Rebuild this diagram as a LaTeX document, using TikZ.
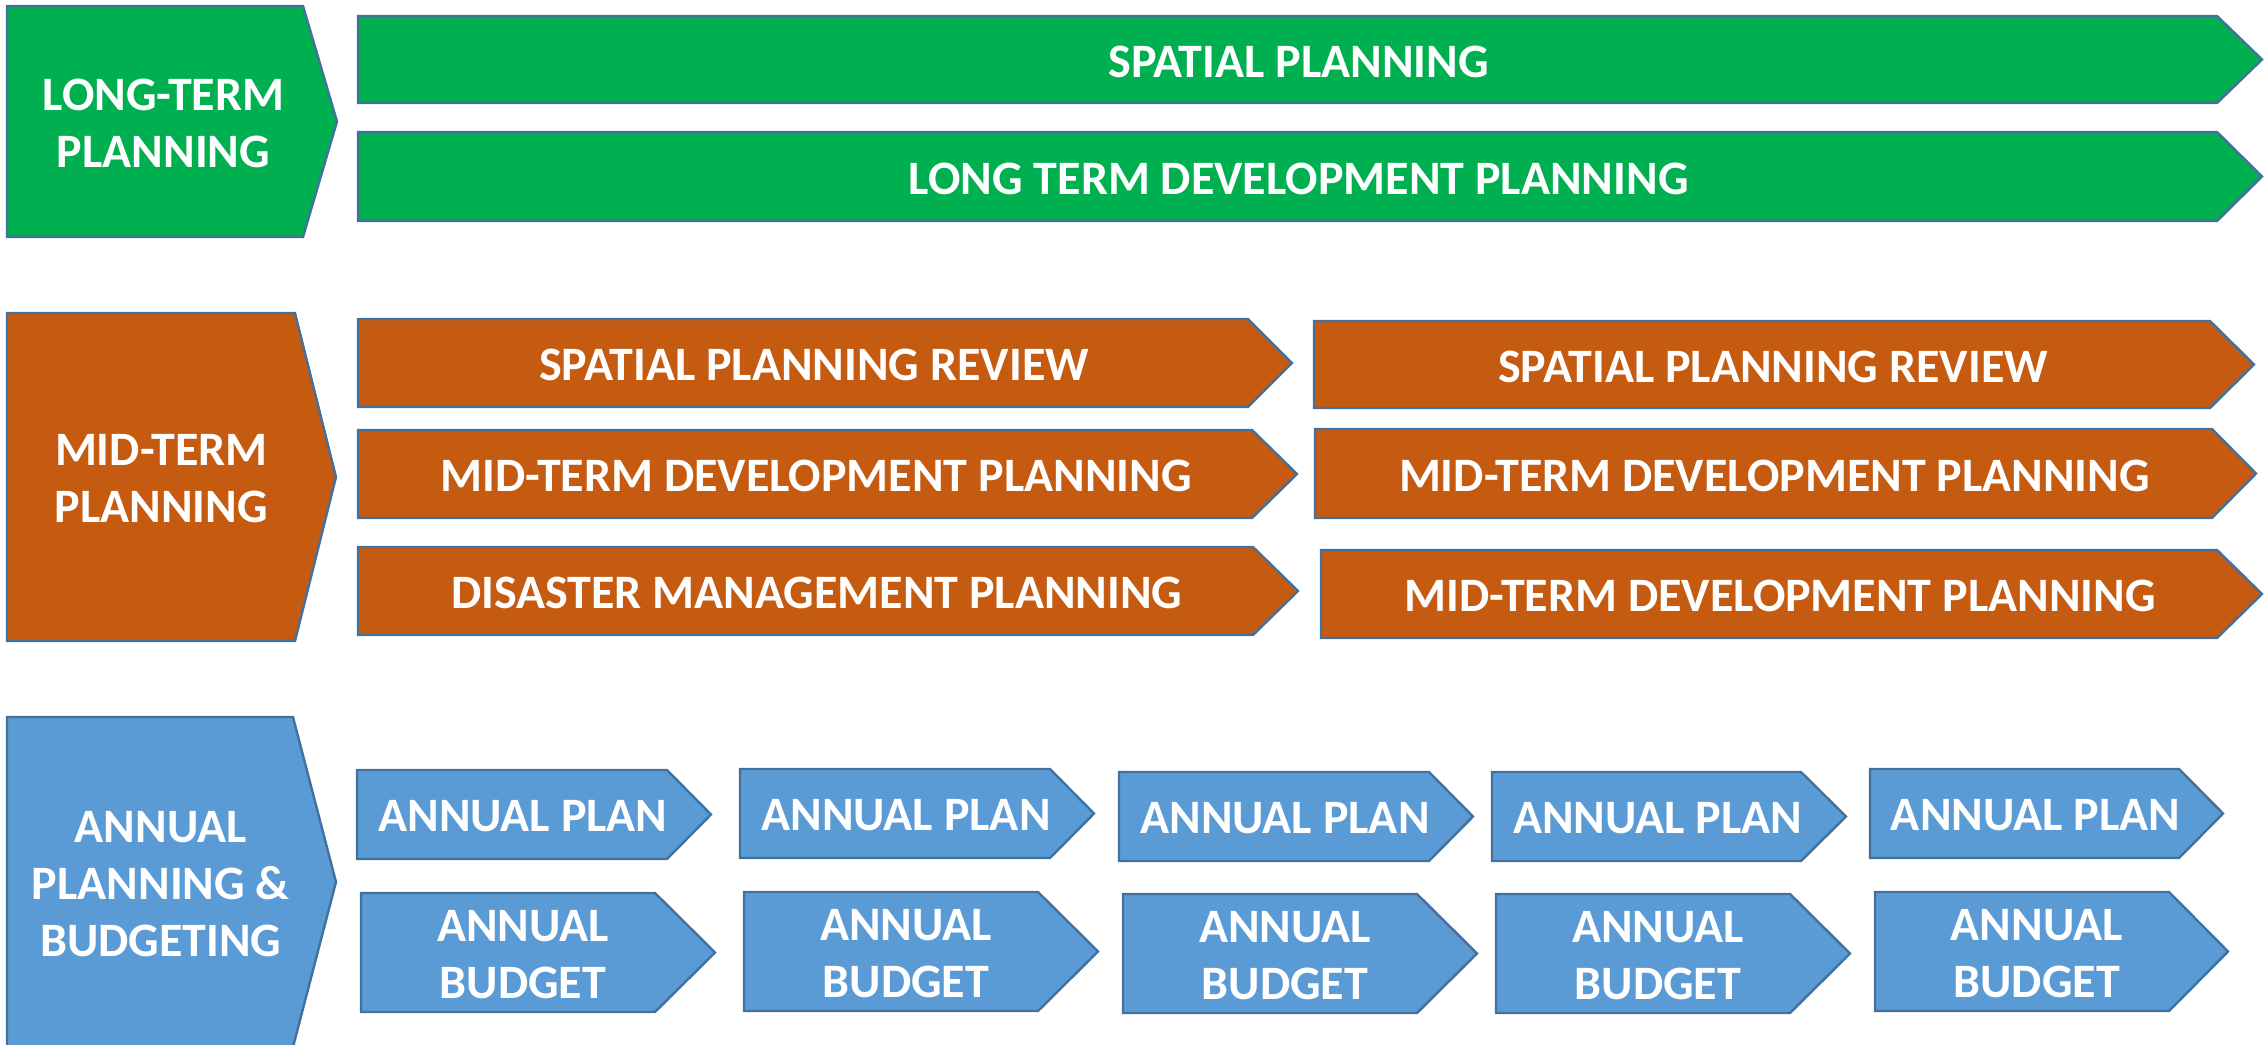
\documentclass[tikz,border=0pt]{standalone}
\usepackage{fontspec}
\setmainfont{Carlito}
\definecolor{ltgreen}{HTML}{00B050}
\definecolor{mtorange}{HTML}{C55A11}
\definecolor{anblue}{HTML}{5B9BD5}
\definecolor{edgeblue}{HTML}{41719C}
\tikzset{
  shapeline/.style={draw=edgeblue, line width=2.4pt, line join=miter},
  lbl/.style={text=white, font=\bfseries\fontsize{48}{57}\selectfont, align=center, inner sep=0pt, yshift=-2pt},
}
\newcommand\homeplate[8]{% name, left, top, shoulder, tip, bottom, colour, text
  \draw[shapeline, fill=#7] (#2,#3) -- (#4,#3) -- (#5,{(#3+#6)/2}) -- (#4,#6) -- (#2,#6) -- cycle;
  \node[lbl] (#1) at ({(#2+(#4+#5)/2)/2},{(#3+#6)/2}) {#8};
}
\begin{document}
\begin{tikzpicture}[x=1pt,y=-1pt]
\clip (0,0) rectangle (2264,1044);
\fill[white] (0,0) rectangle (2264,1044);
% Long-term
\homeplate{lt}{7}{6}{303}{337}{237}{ltgreen}{LONG-TERM\\PLANNING}
\homeplate{g1}{358}{16}{2217}{2262}{103}{ltgreen}{SPATIAL PLANNING}
\homeplate{g2}{358}{132}{2217}{2262}{221}{ltgreen}{LONG TERM DEVELOPMENT PLANNING}
% Mid-term
\homeplate{mt}{7}{313}{295}{336}{641}{mtorange}{MID-TERM\\PLANNING}
\homeplate{o1l}{358}{319}{1248}{1292}{407}{mtorange}{SPATIAL PLANNING REVIEW}
\homeplate{o2l}{358}{430}{1252}{1297}{518}{mtorange}{MID-TERM DEVELOPMENT PLANNING}
\homeplate{o3l}{358}{547}{1253}{1298}{635}{mtorange}{DISASTER MANAGEMENT PLANNING}
\homeplate{o1r}{1314}{321}{2210}{2254}{408}{mtorange}{SPATIAL PLANNING REVIEW}
\homeplate{o2r}{1315}{429}{2212}{2256}{518}{mtorange}{MID-TERM DEVELOPMENT PLANNING}
\homeplate{o3r}{1321}{550}{2217}{2262}{638}{mtorange}{MID-TERM DEVELOPMENT PLANNING}
% Annual
\homeplate{ab}{7}{717}{293}{336}{1047}{anblue}{ANNUAL\\PLANNING \&\\BUDGETING}
\homeplate{p1}{357}{770}{667}{711}{859}{anblue}{ANNUAL PLAN}
\homeplate{p2}{740}{769}{1050}{1094}{858}{anblue}{ANNUAL PLAN}
\homeplate{p3}{1119}{772}{1429}{1473}{861}{anblue}{ANNUAL PLAN}
\homeplate{p4}{1492}{772}{1801}{1846}{861}{anblue}{ANNUAL PLAN}
\homeplate{p5}{1870}{769}{2179}{2223}{858}{anblue}{ANNUAL PLAN}
\homeplate{b1}{361}{893}{655}{715}{1012}{anblue}{ANNUAL\\BUDGET}
\homeplate{b2}{744}{892}{1038}{1098}{1011}{anblue}{ANNUAL\\BUDGET}
\homeplate{b3}{1123}{894}{1417}{1477}{1013}{anblue}{ANNUAL\\BUDGET}
\homeplate{b4}{1496}{894}{1790}{1850}{1013}{anblue}{ANNUAL\\BUDGET}
\homeplate{b5}{1875}{892}{2169}{2228}{1011}{anblue}{ANNUAL\\BUDGET}
\end{tikzpicture}
\end{document}
